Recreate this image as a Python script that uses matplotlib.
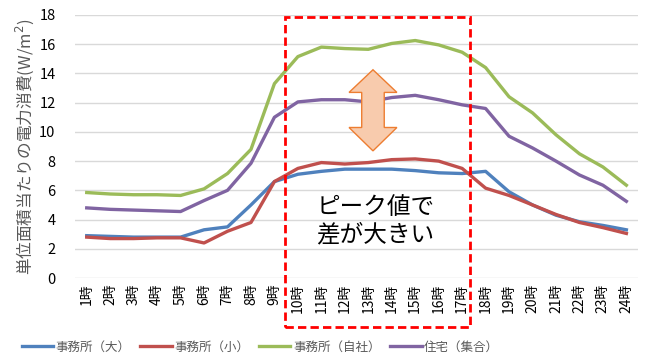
import matplotlib
matplotlib.use("Agg")
import matplotlib.pyplot as plt
from matplotlib.patches import Rectangle, Polygon

plt.rcParams["font.family"] = ["Noto Sans CJK JP", "DejaVu Sans"]

hours = [f"{h}時" for h in range(1, 25)]

office_large = [2.9, 2.85, 2.8, 2.8, 2.8, 3.3, 3.5, 5.0, 6.6, 7.1, 7.3, 7.45,
                7.45, 7.45, 7.35, 7.2, 7.15, 7.3, 5.9, 5.0, 4.3, 3.85, 3.6, 3.3]
office_small = [2.8, 2.7, 2.7, 2.75, 2.75, 2.4, 3.2, 3.8, 6.6, 7.5, 7.9, 7.8,
                7.9, 8.1, 8.15, 8.0, 7.5, 6.15, 5.65, 5.0, 4.35, 3.8, 3.45, 3.05]
office_own = [5.85, 5.75, 5.7, 5.7, 5.65, 6.1, 7.15, 8.8, 13.3, 15.15, 15.8, 15.7,
              15.65, 16.05, 16.25, 15.95, 15.45, 14.4, 12.4, 11.3, 9.8, 8.5, 7.6, 6.35]
housing = [4.8, 4.7, 4.65, 4.6, 4.55, 5.3, 6.0, 7.85, 11.0, 12.05, 12.2, 12.2,
           12.05, 12.35, 12.5, 12.2, 11.85, 11.6, 9.7, 8.9, 8.0, 7.05, 6.35, 5.25]

series = [
    ("事務所（大）", office_large, "#4f81bd"),
    ("事務所（小）", office_small, "#c0504d"),
    ("事務所（自社）", office_own, "#9bbb59"),
    ("住宅（集合）", housing, "#8064a2"),
]

fig = plt.figure(figsize=(6.51, 3.56), dpi=100)
ax = fig.add_axes([0.1152, 0.219, 0.865, 0.739])

x = list(range(len(hours)))
for name, vals, col in series:
    ax.plot(x, vals, color=col, lw=2.4, label=name, solid_joinstyle="round")

ax.set_xlim(-0.5, 23.5)
ax.set_ylim(0, 18)
ax.set_yticks(range(0, 19, 2))
ax.set_xticks(x)
ax.set_xticklabels(hours, rotation=90, fontsize=10)
ax.tick_params(axis="y", labelsize=10.5, length=0, pad=14)
ax.tick_params(axis="x", length=0, pad=4)
ax.grid(axis="y", color="#d9d9d9", lw=1)
ax.set_axisbelow(True)
for s in ax.spines.values():
    s.set_visible(False)

ax.set_ylabel("単位面積当たりの電力消費(W/m$^2$)", fontsize=12, color="#595959", labelpad=2)

# red dashed box around peak hours
box = Rectangle((8.45, -3.36), 7.9, 21.25, fill=False, ec="#ff0000", lw=2,
                ls=(0, (3, 1.5)), clip_on=False, zorder=5)
ax.add_patch(box)

# double-headed arrow
cx = 12.2
arrow_pts = [(cx, 14.25), (cx + 1.02, 12.7), (cx + 0.48, 12.7), (cx + 0.48, 10.3),
             (cx + 1.02, 10.3), (cx, 8.7), (cx - 1.02, 10.3), (cx - 0.48, 10.3),
             (cx - 0.48, 12.7), (cx - 1.02, 12.7)]
ax.add_patch(Polygon(arrow_pts, closed=True, fc="#f8cbad", ec="#ed7d31", lw=1, zorder=4))

ax.text(12.3, 3.9, "ピーク値で\n差が大きい", fontsize=17, ha="center", va="center",
        linespacing=1.25, zorder=6)

fig.legend(loc="lower center", bbox_to_anchor=(0.40, -0.025), ncol=4, frameon=False,
           fontsize=9, handlelength=2.5, handletextpad=0.2, columnspacing=0.8,
           labelcolor="#595959")

fig.savefig("out.png", dpi=100)
